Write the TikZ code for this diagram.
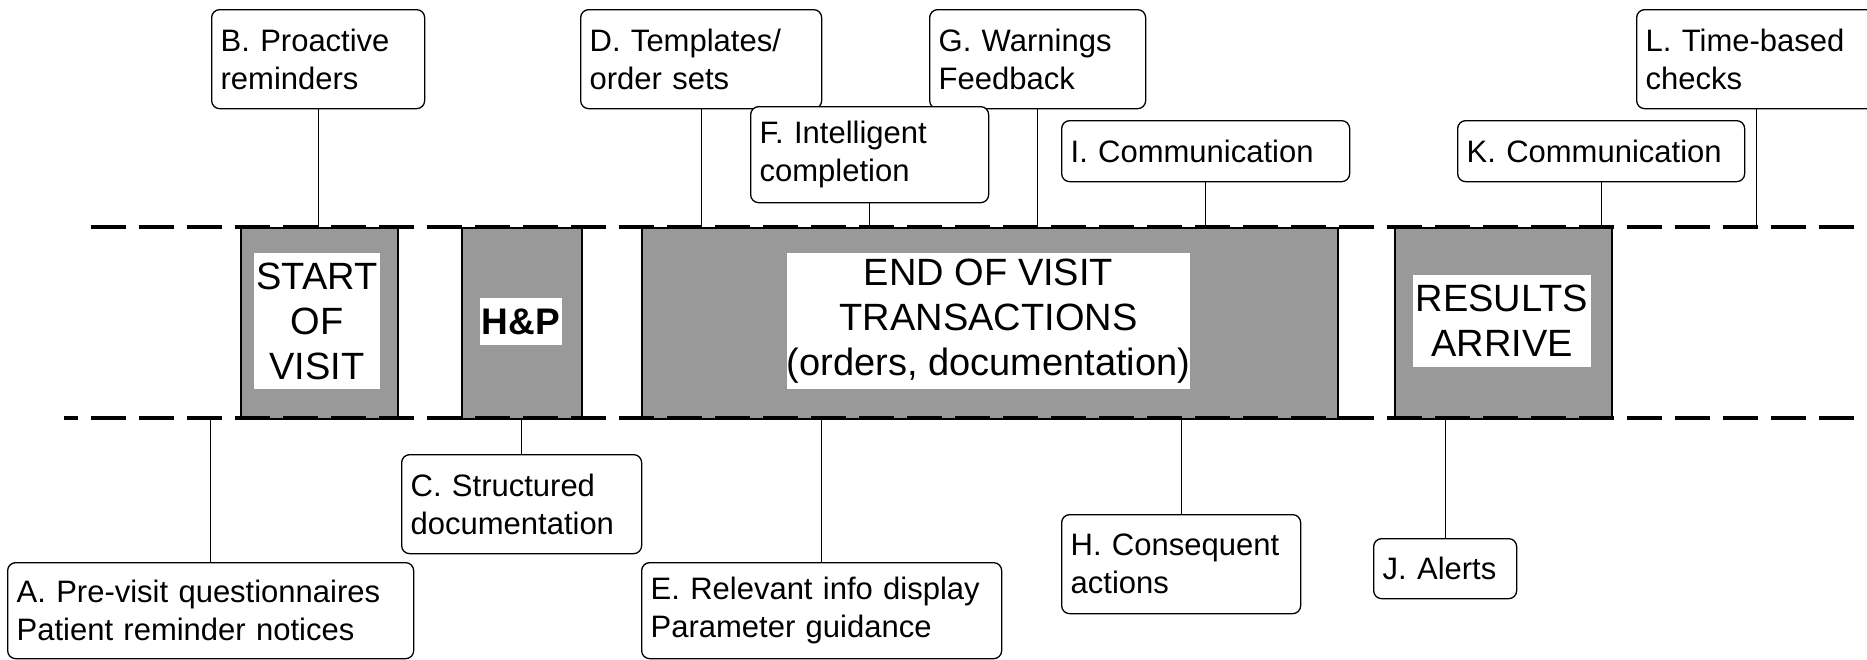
\documentclass[tikz,border=0pt]{standalone}
\usepackage{fontspec}
\setmainfont{Liberation Sans}
\definecolor{phasegray}{HTML}{999999}
\begin{document}
\begin{tikzpicture}[x=1pt,y=-1pt,
  note/.style={draw, line width=1.3pt, rounded corners=8pt, fill=white, anchor=north west,
    inner xsep=9pt, inner ysep=0pt, align=left, font=\fontsize{31}{38}\selectfont},
  phase/.style={draw, line width=1.5pt, fill=phasegray, anchor=north west, inner sep=0pt},
  tag/.style={fill=white, inner sep=0pt, align=center, anchor=center, font=\fontsize{38}{45}\selectfont},
  link/.style={line width=1.3pt},
  timeline/.style={line width=3.5pt, dash pattern=on 35pt off 13pt}]
\path[use as bounding box, clip] (0,0) rectangle (1867,659);
\fill[white] (0,0) rectangle (1867,659);

% phase boxes
\node[phase, minimum width=157pt, minimum height=191pt] (start) at (240,227) {};
\node[phase, minimum width=120pt, minimum height=191pt] (hp) at (461,227) {};
\node[phase, minimum width=696pt, minimum height=191pt] (endv) at (641,227) {};
\node[phase, minimum width=217pt, minimum height=191pt] (results) at (1394,227) {};

\node[tag, minimum width=126pt, minimum height=136pt] (startl) at (317,321) {START\\OF\\VISIT};
\node[tag, minimum width=82pt, minimum height=47pt, font=\fontsize{37}{45}\selectfont\bfseries] (hpl) at (521,321.5) {H\&P};
\node[tag, minimum width=403pt, minimum height=136pt] (endl) at (988.5,321) {END OF VISIT\\TRANSACTIONS\\(orders, documentation)};
\node[tag, minimum width=178pt, minimum height=92pt] (resultsl) at (1502,321) {RESULTS\\ARRIVE};

% time lines
\coordinate (tl) at (83,227);
\coordinate (tr) at (1854,227);
\coordinate (bl) at (64,418);
\coordinate (br) at (1854,418);
\draw[timeline] (tr) -- (tl);
\draw[timeline] (br) -- (bl);

% top notes
\node[note, minimum width=213pt, minimum height=99pt, text width=195pt] (b) at (211,9) {B. Proactive\\reminders};
\node[note, minimum width=241pt, minimum height=99pt, text width=223pt] (d) at (580,9) {D. Templates/\\order sets};
\node[note, minimum width=216pt, minimum height=99pt, text width=198pt] (g) at (929,9) {G. Warnings\\Feedback};
\node[note, minimum width=238pt, minimum height=96pt, text width=220pt] (f) at (750,106) {F. Intelligent\\completion};
\node[note, minimum width=288pt, minimum height=61pt, text width=270pt] (i) at (1061,120) {I. Communication};
\node[note, minimum width=287pt, minimum height=61pt, text width=269pt] (k) at (1457,120) {K. Communication};
\node[note, minimum width=240pt, minimum height=99pt, text width=222pt] (l) at (1636,9) {L. Time-based\\checks};

% bottom notes
\node[note, minimum width=406pt, minimum height=96pt, text width=388pt] (a) at (7,562) {A. Pre-visit questionnaires\\Patient reminder notices};
\node[note, minimum width=240pt, minimum height=99pt, text width=222pt] (c) at (401,454) {C. Structured\\documentation};
\node[note, minimum width=360pt, minimum height=96pt, text width=342pt] (e) at (641,562) {E. Relevant info display\\Parameter guidance};
\node[note, minimum width=239pt, minimum height=99pt, text width=221pt] (h) at (1061,514) {H. Consequent\\actions};
\node[note, minimum width=143pt, minimum height=60pt, text width=125pt] (j) at (1373,538) {J. Alerts};

% connectors
\foreach \n in {b,d,g,f,i,k,l} \draw[link] (\n.south) -- (\n.south |- tl);
\foreach \n in {a,c,e,h,j} \draw[link] (\n.north) -- (\n.north |- bl);
\end{tikzpicture}
\end{document}
